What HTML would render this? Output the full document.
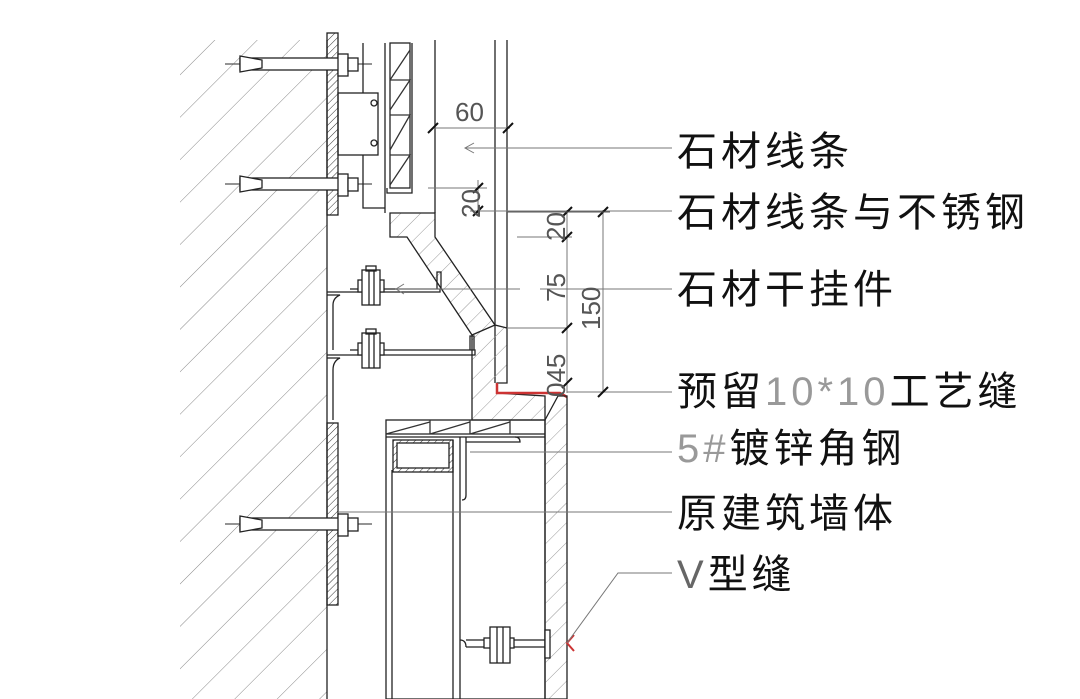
<!DOCTYPE html>
<html><head><meta charset="utf-8"><style>
html,body{margin:0;padding:0;background:#fff;width:1080px;height:699px;overflow:hidden}
svg{display:block}
.t{font-family:"Liberation Sans","Noto Sans CJK SC",sans-serif;font-size:40px;fill:#111;letter-spacing:4px}
.n{font-family:"Liberation Sans",sans-serif;fill:#555}
</style></head><body>
<svg width="1080" height="699" viewBox="0 0 1080 699" xmlns="http://www.w3.org/2000/svg">
<defs>
<pattern id="h" width="30" height="30" patternUnits="userSpaceOnUse" patternTransform="rotate(45)">
<line x1="0" y1="0" x2="0" y2="30" stroke="#888" stroke-width="1"/></pattern>
<pattern id="h2" width="5" height="5" patternUnits="userSpaceOnUse" patternTransform="rotate(45)">
<line x1="0" y1="0" x2="0" y2="5" stroke="#333" stroke-width="1"/></pattern>
<pattern id="h3" width="14" height="14" patternUnits="userSpaceOnUse" patternTransform="rotate(45)">
<line x1="0" y1="0" x2="0" y2="14" stroke="#999" stroke-width="1"/></pattern>
</defs>
<g stroke="#222" fill="none" stroke-width="1.3">
<rect x="180" y="40" width="147" height="659" fill="url(#h)" stroke="none"/>
<line x1="327" y1="40" x2="327" y2="699"/>
<rect x="327" y="33" width="11" height="182" fill="url(#h2)"/>
<rect x="327" y="423" width="11" height="182" fill="url(#h2)"/>
<g id="b1">
<line x1="225" y1="64" x2="372" y2="64" stroke="#555"/>
<rect x="240" y="58" width="100" height="12" fill="#fff"/>
<path d="M240 56 L262 60 L262 68 L240 72 Z" fill="#fff"/>
<rect x="338" y="54" width="10" height="22" fill="#fff"/>
<rect x="348" y="58" width="10" height="13" fill="#fff"/>
</g>
<use href="#b1" y="120"/>
<use href="#b1" y="460"/>
<rect x="338" y="93" width="40" height="62"/>
<circle cx="374" cy="103" r="3"/><circle cx="374" cy="143" r="3"/>
<polyline points="363,43 363,93"/><polyline points="363,155 363,208 385,208"/>
<line x1="385" y1="43" x2="385" y2="213"/>
<rect x="390" y="43" width="20" height="145"/>
<path d="M390 80 L410 50 M390 110 L410 80 L390 80 M390 150 L410 115 L390 115 M390 185 L410 155 L390 155" stroke="#333"/>
<polyline points="387,188 387,193 412,193 412,43"/>
<line x1="435" y1="40" x2="435" y2="213"/>
<line x1="495" y1="40" x2="495" y2="383"/>
<line x1="507" y1="40" x2="507" y2="328"/>
<path d="M390 213 L435 213 L435 237 L495 325 L507 328 L507 383 L497 383 L497 393 L545 396 L545 420 L472 420 L472 335 L407 237 L390 237 Z" fill="url(#h3)"/>
<path d="M472 335 L495 325" />
<path d="M497 383 L497 393 L560 393 L567 397" stroke="#c33" stroke-width="2.5"/>
<path d="M327 292 L440 292 L440 289 L350 289 M327 295 L340 295 Q333 298 333 305 L333 350" />
<path d="M327 355 L475 355 L475 350 L350 350 M327 358 L340 358 Q333 361 333 370 L333 420" />
<path d="M437 289 L437 272 L441 272 L441 289 M470 350 L470 336 L474 336 L474 350"/>
<g id="nut"><rect x="358" y="280" width="26" height="12" fill="#fff"/><rect x="362" y="270" width="18" height="35" fill="#fff"/><line x1="369" y1="270" x2="369" y2="305"/><line x1="374" y1="270" x2="374" y2="305"/><rect x="366" y="266" width="10" height="5"/></g>
<use href="#nut" y="63"/>
<rect x="386" y="420" width="159" height="279"/>
<line x1="386" y1="434" x2="545" y2="434"/><line x1="386" y1="437" x2="545" y2="437"/>
<path d="M386 434 L430 422 M430 420 L430 434 M430 434 L470 422 M470 420 L470 434 M470 434 L510 422 M510 420 L510 434" stroke="#333"/>
<rect x="393" y="440" width="60" height="32" fill="url(#h2)"/><rect x="397" y="443" width="52" height="25" fill="#fff"/>
<line x1="392" y1="470" x2="392" y2="699"/><line x1="453" y1="440" x2="453" y2="699"/>
<path d="M460 437 L460 699 M466 437 L466 495 Q466 500 462 500 M466 442 L520 442 Q520 437 515 437"/>
<path d="M545 420 L558 396 L567 396 L567 699 L545 699 Z" fill="url(#h3)"/>
<path d="M466 640 L545 640 M466 647 L545 647 M460 640 Q466 640 466 647"/>
<rect x="545" y="630" width="5" height="28" fill="#fff"/>
<rect x="484" y="638" width="30" height="10" fill="#fff"/>
<rect x="490" y="627" width="20" height="36" fill="#fff"/><line x1="497" y1="627" x2="497" y2="663"/><line x1="503" y1="627" x2="503" y2="663"/>
<path d="M574 635 L567 643 L574 651" stroke="#c33" stroke-width="2"/>
</g>
<g stroke="#777" stroke-width="1" fill="none">
<line x1="432" y1="128" x2="510" y2="128"/>
<line x1="465" y1="148" x2="672" y2="148"/><path d="M474 143 L465 148 L474 153"/>
<line x1="428" y1="188" x2="487" y2="188"/>
<line x1="470" y1="211" x2="672" y2="211"/>
<line x1="478" y1="180" x2="478" y2="215"/>
<line x1="517" y1="237" x2="572" y2="237"/>
<line x1="567" y1="210" x2="567" y2="393"/>
<line x1="603" y1="210" x2="603" y2="393"/>
<line x1="540" y1="289" x2="672" y2="289"/>
<line x1="440" y1="289" x2="520" y2="289"/><path d="M404 284 L396 289 L404 294"/>
<line x1="396" y1="289" x2="440" y2="289"/>
<line x1="507" y1="328" x2="567" y2="328"/>
<line x1="567" y1="392" x2="672" y2="392"/>
<line x1="470" y1="452" x2="672" y2="452"/>
<line x1="338" y1="512" x2="672" y2="512"/>
<path d="M567 643 L618 573 L672 573"/>
</g>
<g stroke="#111" stroke-width="2">
<path d="M428 133 L438 123 M503 133 L513 123 M473 193 L483 183 M473 216 L483 206 M562 217 L572 207 M598 217 L608 207 M562 242 L572 232 M562 333 L572 323 M562 388 L572 378 M598 397 L608 387"/>
</g>
<line x1="507" y1="212" x2="610" y2="212" stroke="#555" stroke-width="1"/>
<text class="n" x="455" y="121" font-size="26">60</text>
<text class="n" font-size="26" transform="translate(480,218) rotate(-90)">20</text>
<text class="n" font-size="26" transform="translate(565,241) rotate(-90)">20</text>
<text class="n" font-size="26" transform="translate(565,302) rotate(-90)">75</text>
<text class="n" font-size="26" transform="translate(600,330) rotate(-90)">150</text>
<text class="n" font-size="26" transform="translate(565,397) rotate(-90)">045</text>
<text class="t" x="677" y="165">石材线条</text>
<text class="t" x="677" y="226">石材线条与不锈钢</text>
<text class="t" x="677" y="303">石材干挂件</text>
<text class="t" x="677" y="405">预留<tspan fill="#999">10*10</tspan>工艺缝</text>
<text class="t" x="677" y="462"><tspan fill="#999">5#</tspan>镀锌角钢</text>
<text class="t" x="677" y="527">原建筑墙体</text>
<text class="t" x="677" y="588"><tspan fill="#666">V</tspan>型缝</text>
</svg>
</body></html>
